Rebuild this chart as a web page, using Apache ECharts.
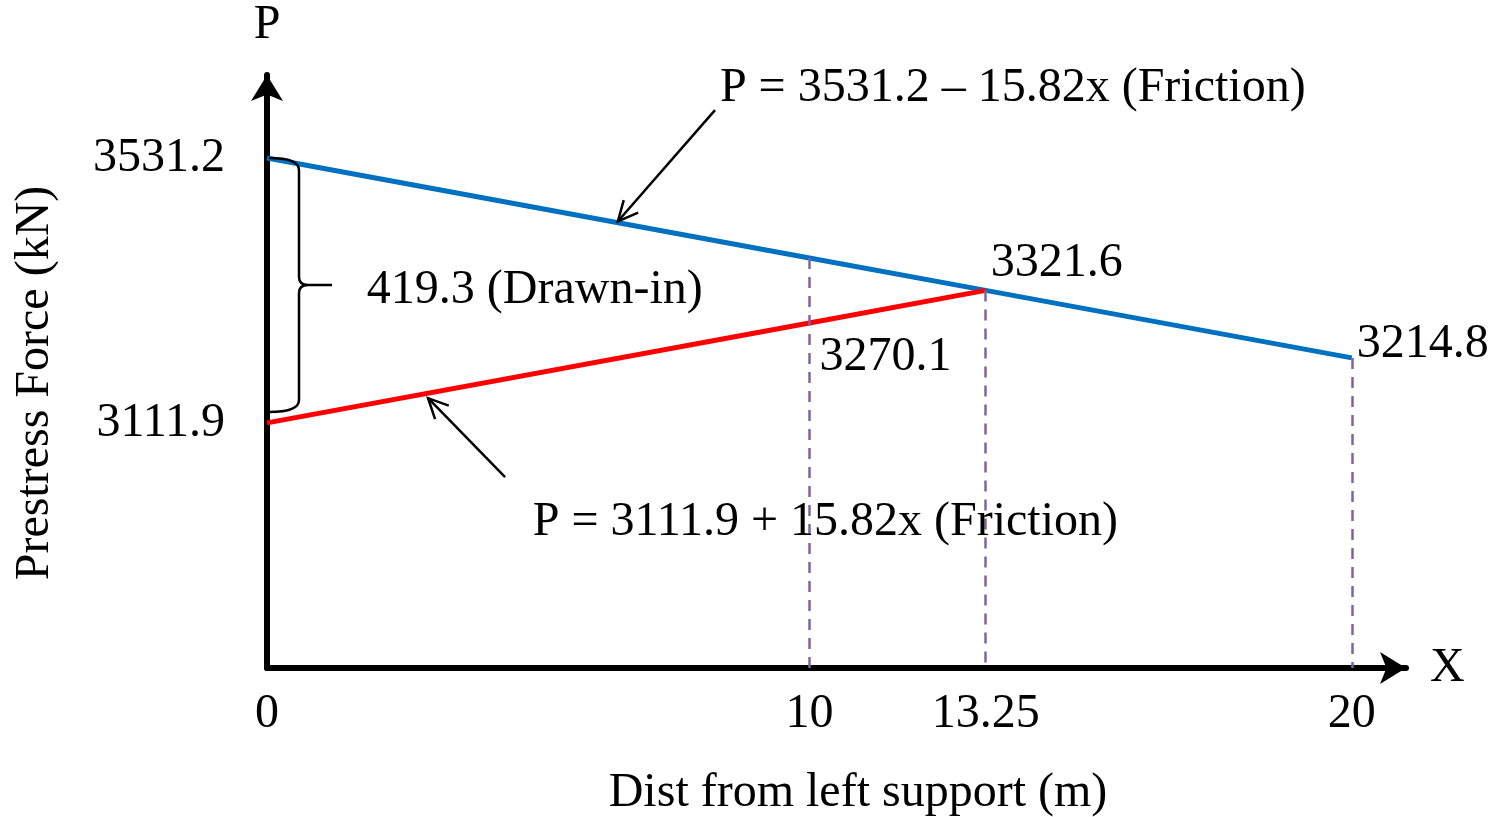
<!DOCTYPE html>
<html>
<head>
<meta charset="utf-8">
<script src="https://cdn.jsdelivr.net/npm/echarts@6.0.0/dist/echarts.min.js"></script>
<style>
  html, body { margin: 0; padding: 0; background: #fff; }
  #chart { width: 1495px; height: 817px; }
</style>
</head>
<body>
<div id="chart"></div>
<script>
// data
const xTicks = [0, 10, 13.25, 20];
const yTicks = [3111.9, 3531.2];
const frictionX = [0, 10, 13.25, 20];
const frictionP = [3531.2, 3373.0, 3321.6, 3214.8];
const drawnX = [0, 10, 13.25];
const drawnP = [3111.9, 3270.1, 3321.6];
const guideX = [10, 13.25, 20];
const guideTop = [3373.0, 3321.6, 3214.8];
const pointLabels = [[13.25, 3321.6], [10, 3270.1], [20, 3214.8]];
const drawnIn = [3531.2, 3129];

const yMin = 2724;
const yMax = 3662.5;
const font = "'Liberation Serif', 'Times New Roman', serif";
const fs = 48;

// annotation text and arrows (data coords)
const notes = [
    { text: 'P = 3531.2 – 15.82x (Friction)', at: [8.35, 3642], from: [8.26, 3607], to: [6.47, 3431] },
    { text: 'P = 3111.9 + 15.82x (Friction)', at: [4.9, 2955], from: [4.39, 3026], to: [2.97, 3151] },
    { text: '419.3 (Drawn-in)', at: [1.84, 3322] }
];

const zip = (xs, ys) => xs.map((x, i) => [x, ys[i]]);

let renderNotes = (params, api) => {
    let children = [];
    // brace for drawn-in loss
    let top = api.coord([0, drawnIn[0]]);
    let bot = api.coord([0, drawnIn[1]]);
    let x0 = top[0] + 2, x1 = x0 + 30, x2 = x0 + 63;
    let yM = (top[1] + bot[1]) / 2;
    let d = `M${x0},${top[1]} Q${x1},${top[1]} ${x1},${top[1] + 12}` +
        ` L${x1},${yM - 8} Q${x1},${yM} ${x1 + 9},${yM} L${x2},${yM}` +
        ` M${x1 + 9},${yM} Q${x1},${yM} ${x1},${yM + 8}` +
        ` L${x1},${bot[1] - 12} Q${x1},${bot[1]} ${x0},${bot[1]}`;
    children.push({ type: 'path', shape: { pathData: d }, style: { stroke: '#000', fill: null, lineWidth: 2.5 } });

    notes.forEach(n => {
        let p = api.coord(n.at);
        children.push({
            type: 'text', x: p[0], y: p[1],
            style: { text: n.text, fontSize: fs, fontFamily: font, fill: '#000', align: 'left', verticalAlign: 'middle' }
        });
        if (n.from) {
            let a = api.coord(n.from), b = api.coord(n.to);
            let ang = Math.atan2(a[1] - b[1], a[0] - b[0]);
            let len = 22, spread = 0.45;
            children.push({ type: 'line', shape: { x1: a[0], y1: a[1], x2: b[0], y2: b[1] }, style: { stroke: '#000', lineWidth: 2.5 } });
            children.push({
                type: 'polyline',
                shape: {
                    points: [
                        [b[0] + len * Math.cos(ang + spread), b[1] + len * Math.sin(ang + spread)],
                        [b[0], b[1]],
                        [b[0] + len * Math.cos(ang - spread), b[1] + len * Math.sin(ang - spread)]
                    ]
                },
                style: { stroke: '#000', fill: null, lineWidth: 2.5 }
            });
        }
    });
    return { type: 'group', children: children };
};

var dom = document.getElementById('chart');
var chart = echarts.init(dom, null, { renderer: 'canvas' });

var option = {
    backgroundColor: '#fff',
    animation: false,
    textStyle: { fontFamily: font },
    grid: { left: 267, right: 89, top: 75, bottom: 149 },
    xAxis: {
        type: 'value',
        min: 0,
        max: 21,
        name: 'X',
        nameLocation: 'end',
        nameGap: 24,
        nameTextStyle: { fontSize: fs, fontFamily: font, color: '#000', verticalAlign: 'middle', padding: [6, 0, 0, 0] },
        axisLine: { onZero: false, symbol: ['none', 'arrow'], symbolSize: [24, 26], lineStyle: { color: '#000', width: 6 } },
        axisTick: { show: false },
        splitLine: { show: false },
        axisLabel: {
            customValues: xTicks,
            fontSize: fs, fontFamily: font, color: '#000', margin: 22,
            formatter: v => String(v)
        }
    },
    yAxis: {
        type: 'value',
        min: yMin,
        max: yMax,
        name: 'P',
        nameLocation: 'end',
        nameGap: 26,
        nameTextStyle: { fontSize: fs, fontFamily: font, color: '#000', align: 'center' },
        axisLine: { onZero: false, symbol: ['none', 'arrow'], symbolSize: [24, 26], lineStyle: { color: '#000', width: 6 } },
        axisTick: { show: false },
        splitLine: { show: false },
        axisLabel: {
            customValues: yTicks,
            fontSize: fs, fontFamily: font, color: '#000', margin: 42,
            padding: [6, 0, 0, 0],
            formatter: v => v.toFixed(1)
        }
    },
    graphic: [
        {
            type: 'text', x: 35, y: 383, rotation: Math.PI / 2,
            style: { text: 'Prestress Force (kN)', fontSize: fs, fontFamily: font, fill: '#000', align: 'center', verticalAlign: 'middle' }
        },
        {
            type: 'text', x: 858, y: 793,
            style: { text: 'Dist from left support (m)', fontSize: fs, fontFamily: font, fill: '#000', align: 'center', verticalAlign: 'middle' }
        }
    ],
    series: [
        {
            name: 'guides',
            type: 'line',
            data: [],
            markLine: {
                silent: true,
                symbol: 'none',
                label: { show: false },
                lineStyle: { color: '#8064A2', width: 2.5, type: [11, 8], opacity: 1 },
                data: guideX.map((x, i) => [{ coord: [x, guideTop[i]] }, { coord: [x, yMin] }])
            }
        },
        {
            name: 'Friction',
            type: 'line',
            data: zip(frictionX, frictionP),
            showSymbol: false,
            lineStyle: { color: '#0070C0', width: 5 },
            z: 3
        },
        {
            name: 'Drawn-in',
            type: 'line',
            data: zip(drawnX, drawnP),
            showSymbol: false,
            lineStyle: { color: '#FF0000', width: 5 },
            z: 4
        },
        {
            name: 'values',
            type: 'scatter',
            symbolSize: 0,
            itemStyle: { opacity: 1 },
            data: [
                { value: pointLabels[0], label: { offset: [0, -27] } },
                { value: pointLabels[1], label: { offset: [5, 34] } },
                { value: pointLabels[2], label: { offset: [0, -13] } }
            ],
            label: {
                show: true,
                position: 'right',
                distance: 5,
                fontSize: fs, fontFamily: font, color: '#000',
                formatter: p => p.value[1].toFixed(1)
            },
            z: 5
        },
        {
            name: 'notes',
            type: 'custom',
            data: [[0, yMin]],
            clip: false,
            silent: true,
            renderItem: renderNotes,
            z: 6
        }
    ]
};

chart.setOption(option);
</script>
</body>
</html>
